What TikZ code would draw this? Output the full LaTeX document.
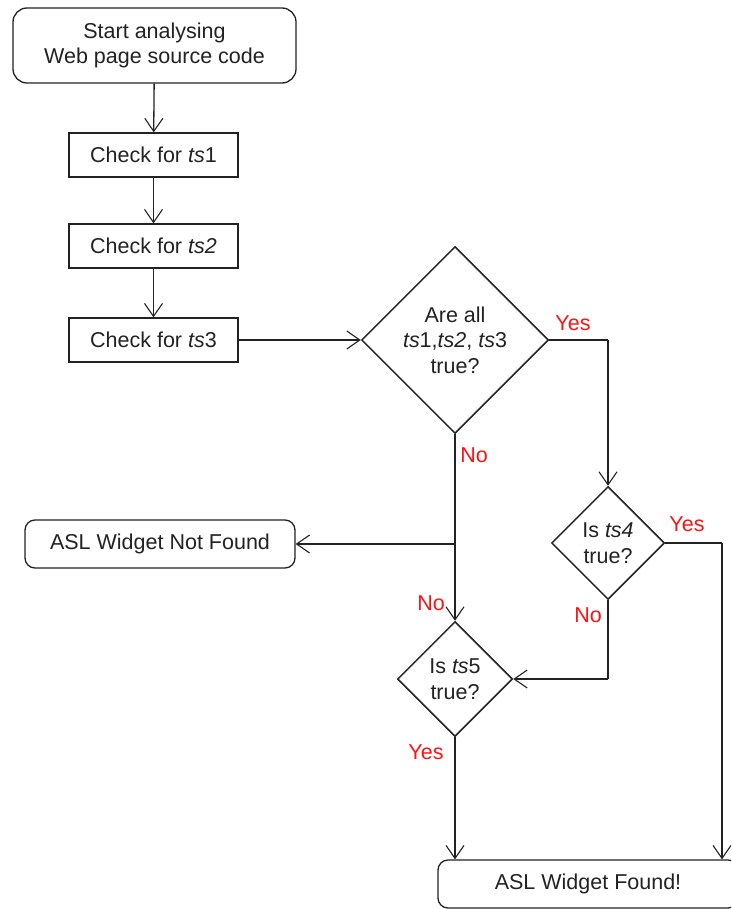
\documentclass[tikz,border=0pt]{standalone}
\usepackage{fontspec}
\setmainfont{Liberation Sans}
\usetikzlibrary{arrows.meta,shapes.geometric}
\definecolor{ink}{RGB}{34,34,34}
\definecolor{lblred}{RGB}{250,20,20}
\begin{document}
\begin{tikzpicture}[x=1pt,y=-1pt,
  font=\fontsize{21.5}{25.5}\selectfont,
  every node/.style={text=ink, inner sep=0pt},
  terminal/.style={draw=ink, line width=1.3pt, rectangle, rounded corners=14pt, align=center},
  process/.style={draw=ink, line width=1.3pt, rectangle, align=center, minimum width=169pt, minimum height=44pt},
  decision/.style={draw=ink, line width=1.5pt, diamond, aspect=1, align=center},
  flow/.style={draw=ink, line width=1.3pt, -{Straight Barb[length=13pt,width=18pt,line width=1.1pt]}},
  link/.style={draw=ink, line width=1.3pt},
  answer/.style={text=lblred}
]
\useasboundingbox (0,0) rectangle (731,909);
\clip (0,0) rectangle (731,909);

% boxes
\node[terminal, minimum width=283pt, minimum height=75pt] (start) at (154.5,45.5)
  {Start analysing\\Web page source code};
\node[process] (c1) at (153.5,155) {Check for \textit{ts}1};
\node[process] (c2) at (153.5,246) {Check for \textit{ts2}};
\node[process] (c3) at (153.5,340) {Check for \textit{ts}3};

% decisions
\node[decision, minimum width=187pt, minimum height=187pt] (d1) at (455,340)
  {Are all\\\textit{ts}1,\textit{ts2}, \textit{ts}3\\true?};
\node[decision, minimum width=113pt, minimum height=113pt] (d4) at (608,543)
  {Is \textit{ts4}\\true?};
\node[decision, minimum width=115pt, minimum height=115pt] (d5) at (455,679)
  {Is \textit{ts}5\\true?};

% outcomes
\node[terminal, rounded corners=10pt, minimum width=270pt, minimum height=48pt] (nf) at (160,544)
  {ASL Widget Not Found};
\node[terminal, rounded corners=10pt, minimum width=300pt, minimum height=48pt] (found) at (588,884)
  {ASL Widget Found!};

% junction points
\coordinate (j1) at (d1.south |- nf.east);
\coordinate (r1) at (d4.north |- d1.east);
\coordinate (r4) at (722,543);
\coordinate (b4) at (d4.south |- d5.east);

% connectors
\draw[flow] (start) -- (c1);
\draw[flow] (c1) -- (c2);
\draw[flow] (c2) -- (c3);
\draw[flow] (c3) -- (d1.west);
\draw[link] (d1.east) -- (r1);
\draw[flow] (r1) -- (d4.north);
\draw[flow] (d1.south) -- (d5.north);
\draw[flow] (j1) -- (nf.east);
\draw[link] (d4.east) -- (r4);
\draw[flow] (r4) -- (r4 |- found.north);
\draw[link] (d4.south) -- (b4);
\draw[flow] (b4) -- (d5.east);
\draw[flow] (d5.south) -- (d5.south |- found.north);

% branch labels
\node[answer] (y1) at (573,323) {Yes};
\node[answer] (n1) at (474,455) {No};
\node[answer] (y4) at (687,524) {Yes};
\node[answer] (n4) at (588,615) {No};
\node[answer] (n5) at (431,603) {No};
\node[answer] (y5) at (426,752) {Yes};
\end{tikzpicture}
\end{document}
